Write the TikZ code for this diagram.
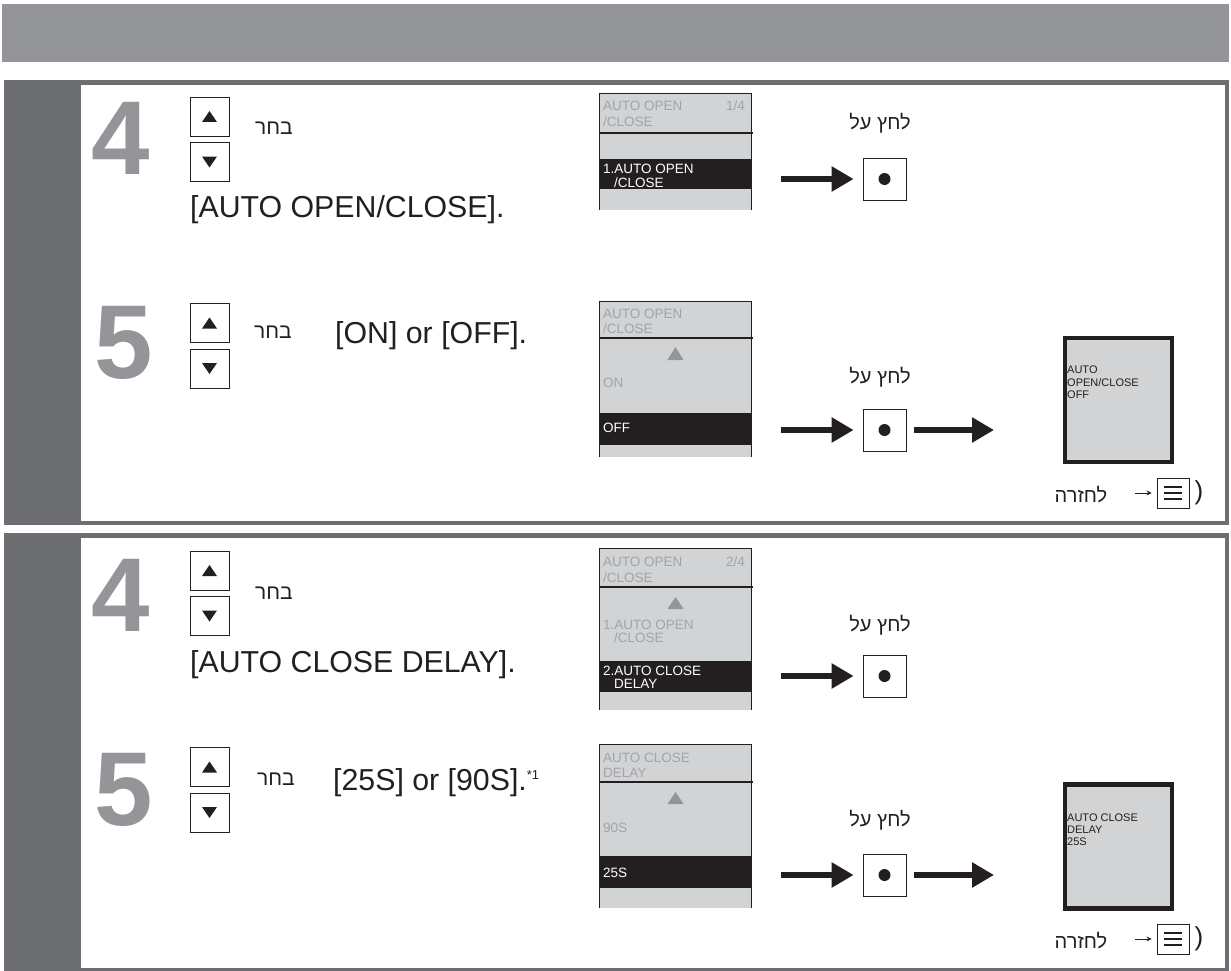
\documentclass[tikz,border=0pt]{standalone}
\usepackage{fontspec}
\setmainfont{Liberation Sans}
\newfontfamily\hebfont[Script=Hebrew]{Liberation Sans}
\TeXXeTstate=1
\usetikzlibrary{arrows.meta}
\definecolor{bar}{HTML}{939598}
\definecolor{framec}{HTML}{6D6E71}
\definecolor{lcd}{HTML}{D1D3D4}
\definecolor{lcdtxt}{HTML}{A2A4A7}
\definecolor{ink}{HTML}{231F20}
\tikzset{
  bigdigit/.style={font=\fontsize{105}{105}\selectfont\bfseries, text=bar, inner sep=0, anchor=base west},
  body/.style={font=\fontsize{30.3}{32}\selectfont, text=ink, inner sep=0, anchor=base west},
  heb/.style={font=\fontsize{20}{22}\selectfont\hebfont, text=ink, inner sep=0},
  keybox/.style={draw=ink, line width=0.8pt, minimum width=39pt, minimum height=39pt, inner sep=0},
  okbox/.style={draw=ink, line width=0.8pt, minimum width=43pt, minimum height=42pt, inner sep=0},
  menubox/.style={draw=ink, line width=0.8pt, minimum width=32pt, minimum height=30pt, inner sep=0},
  lcdscr/.style={fill=lcd, minimum width=151pt, inner sep=0},
  scrline/.style={draw=ink, line width=1.2pt},
  lcdt/.style={font=\fontsize{13.5}{14}\selectfont, text=lcdtxt, inner sep=0, anchor=base west},
  lcdw/.style={font=\fontsize{13.5}{14}\selectfont, text=white, inner sep=0, anchor=base west},
  resbox/.style={draw=ink, line width=4.5pt, fill=lcd, minimum width=107pt, minimum height=124pt, inner sep=0},
  rest/.style={font=\fontsize{11}{12}\selectfont, text=ink, inner sep=0, anchor=base west},
  bigarr/.style={draw=ink, line width=6.5pt, -{Triangle[length=22pt,width=24pt]}},
  smallarr/.style={draw=ink, line width=0.8pt, -{Stealth[length=5pt,width=5pt]}},
}
\begin{document}
\begin{tikzpicture}[x=1pt,y=-1pt]
\useasboundingbox (0,0) rectangle (1231,971);
% header bar
\fill[bar] (2,4) rectangle (1229,62);
% panels
\fill[framec] (4,80) rectangle (1229,525);
\fill[white] (81,85) rectangle (1225,521);
\fill[framec] (4,533) rectangle (1229,971);
\fill[white] (81,538) rectangle (1225,968);

% big step numbers
\node[bigdigit] (n4a) at (91,175) {4};
\node[bigdigit] (n5a) at (94,378) {5};
\node[bigdigit] (n4b) at (91,631) {4};
\node[bigdigit] (n5b) at (94,825) {5};

% up/down keys
\foreach \n/\yu/\yd in {a/116.5/162, b/323/368.5, c/570.5/616, d/767/812.5}{
  \node[keybox] (u\n) at (209.5,\yu) {};
  \node[keybox] (d\n) at (209.5,\yd) {};
  \fill[ink] (u\n.center) ++(-7.5,5.5) -- ++(15,0) -- ++(-7.5,-11) -- cycle;
  \fill[ink] (d\n.center) ++(-7.5,-5.5) -- ++(15,0) -- ++(-7.5,11) -- cycle;
}
\node[heb, font=\fontsize{21}{22}\selectfont\hebfont] (sela) at (274,128) {\beginR בחר\endR};
\node[heb, font=\fontsize{21}{22}\selectfont\hebfont] (selb) at (273,332) {\beginR בחר\endR};
\node[heb, font=\fontsize{21}{22}\selectfont\hebfont] (selc) at (274,593) {\beginR בחר\endR};
\node[heb, font=\fontsize{21}{22}\selectfont\hebfont] (seld) at (276,779) {\beginR בחר\endR};

\node[body] (ta) at (190,217) {[AUTO OPEN/CLOSE].};
\node[body] (tb) at (335,343) {[ON] or [OFF].};
\node[body] (tc) at (190,672) {[AUTO CLOSE DELAY].};
\node[body] (td) at (333,790) {[25S] or [90S].\raisebox{11pt}{\fontsize{13}{13}\selectfont *1}};

% ---------- screen 1 ----------
\node[lcdscr, minimum height=116pt] (s1) at (675.5,152) {};
\fill[ink] (600,159) rectangle (751,189);
\draw[scrline] (s1.south west) -- (s1.north west) -- (s1.north east) -- (s1.south east);
\draw[scrline] (600,133) -- (753,133);
\node[lcdt] at (603,111) {AUTO OPEN};
\node[lcdt, anchor=base east] at (745,111) {1/4};
\node[lcdt] at (603,127) {/CLOSE};
\node[lcdw] at (603,173) {1.AUTO OPEN};
\node[lcdw] at (614,187) {/CLOSE};

% ---------- screen 2 ----------
\node[lcdscr, minimum height=155pt] (s2) at (675.5,379.5) {};
\fill[ink] (600,413) rectangle (751,445);
\draw[scrline] (s2.south west) -- (s2.north west) -- (s2.north east) -- (s2.south east);
\draw[scrline] (600,338) -- (753,338);
\fill[bar] (667.5,360) -- (683.5,360) -- (675.5,347) -- cycle;
\node[lcdt] at (603,318) {AUTO OPEN};
\node[lcdt] at (603,333) {/CLOSE};
\node[lcdt] at (603,387) {ON};
\node[lcdw] at (603,432) {OFF};

% ---------- screen 3 ----------
\node[lcdscr, minimum height=161pt] (s3) at (675.5,629.5) {};
\fill[ink] (600,661) rectangle (751,692);
\draw[scrline] (s3.south west) -- (s3.north west) -- (s3.north east) -- (s3.south east);
\draw[scrline] (600,587) -- (753,587);
\fill[bar] (667.5,609) -- (683.5,609) -- (675.5,597) -- cycle;
\node[lcdt] at (603,566) {AUTO OPEN};
\node[lcdt, anchor=base east] at (745,566) {2/4};
\node[lcdt] at (603,582) {/CLOSE};
\node[lcdt] at (603,629) {1.AUTO OPEN};
\node[lcdt] at (614,642) {/CLOSE};
\node[lcdw] at (603,675) {2.AUTO CLOSE};
\node[lcdw] at (614,688) {DELAY};

% ---------- screen 4 ----------
\node[lcdscr, minimum height=163pt] (s4) at (675.5,826.5) {};
\fill[ink] (600,856) rectangle (751,888);
\draw[scrline] (s4.south west) -- (s4.north west) -- (s4.north east) -- (s4.south east);
\draw[scrline] (600,782) -- (753,782);
\fill[bar] (667.5,804) -- (683.5,804) -- (675.5,792) -- cycle;
\node[lcdt] at (603,762) {AUTO CLOSE};
\node[lcdt] at (603,777) {DELAY};
\node[lcdt] at (603,832) {90S};
\node[lcdw] at (603,877) {25S};

% ---------- OK buttons and arrows ----------
\foreach \n/\y in {1/179, 2/430, 3/676, 4/875}{
  \node[okbox] (b\n) at (884.5,\y) {};
  \fill[ink] (b\n.center) circle (6pt);
  \coordinate (a\n) at (781,\y);
  \draw[bigarr, shorten >=9pt] (a\n) -- (b\n.west);
}
\node[heb] (pa) at (880,123) {\beginR לחץ על\endR};
\node[heb] (pb) at (880,377) {\beginR לחץ על\endR};
\node[heb] (pc) at (880,625) {\beginR לחץ על\endR};
\node[heb] (pd) at (880,820) {\beginR לחץ על\endR};

% ---------- result screens ----------
\node[resbox] (r1) at (1118.5,400) {};
\coordinate (e1) at (994,430);
\draw[bigarr, shorten <=8pt] (b2.east) -- (e1);
\node[rest] at (1067,373) {AUTO};
\node[rest] at (1067,386) {OPEN/CLOSE};
\node[rest] at (1067,398) {OFF};

\node[resbox] (r2) at (1118.5,846.5) {};
\coordinate (e2) at (994,875);
\draw[bigarr, shorten <=8pt] (b4.east) -- (e2);
\node[rest] at (1067,821) {AUTO CLOSE};
\node[rest] at (1067,833) {DELAY};
\node[rest] at (1067,845) {25S};

% ---------- return hints ----------
\foreach \n/\y in {1/493, 2/939}{
  \node[heb] (ret\n) at (1081,\y+2) {\beginR לחזרה\endR};
  \node[menubox] (m\n) at (1173,\y) {};
  \foreach \dy in {-6,0,6}{
    \draw[ink, line width=2.2pt] (m\n.center) ++(-9,\dy) -- ++(18,0);
  }
  \coordinate (q\n) at (1135,\y);
  \draw[smallarr, shorten >=5pt] (q\n) -- (m\n.west);
  \node[font=\fontsize{26}{28}\selectfont, text=ink, inner sep=0] (cp\n) at (1199,\y) {)};
}
\end{tikzpicture}
\end{document}
